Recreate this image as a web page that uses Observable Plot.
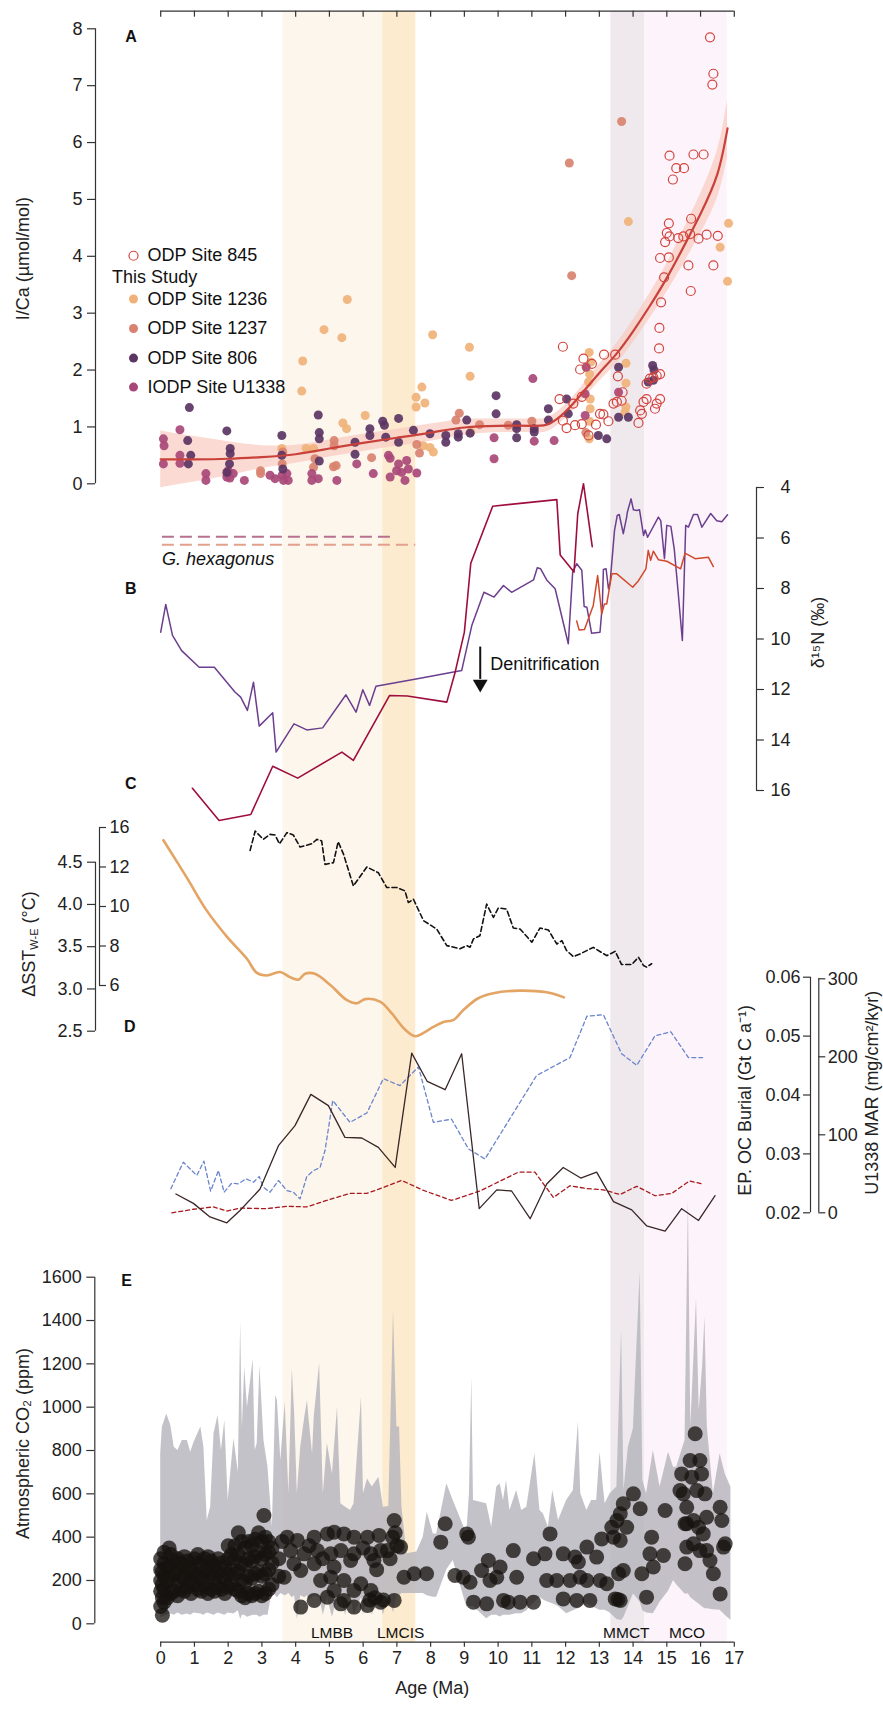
<!DOCTYPE html>
<html><head><meta charset="utf-8">
<script src="https://cdn.jsdelivr.net/npm/d3@7"></script>
<script src="https://cdn.jsdelivr.net/npm/@observablehq/plot@0.6"></script>
<style>
body{margin:0;background:#fff}
#chart{position:relative;width:883px;height:1711px;overflow:hidden}
</style>
</head><body><div id="chart"></div>
<script>
// ---------------- DATA ----------------
const ageTicks = d3.range(0, 18);
const bands = [
  {name: "LMBB", x1: 3.62, x2: 6.58, fill: "#fcf6ed", labelX: 5.08},
  {name: "LMCIS", x1: 6.58, x2: 7.56, fill: "#fdebd0", labelX: 7.11},
  {name: "MMCT", x1: 13.34, x2: 14.35, fill: "#efe9ee", labelX: 13.8},
  {name: "MCO", x1: 14.35, x2: 16.79, fill: "#fdf4fb", labelX: 15.6}
];

// Panel A : I/Ca
const site845 = [[16.28,7.85],[16.38,7.21],[16.35,7.02],[15.08,5.77],[15.79,5.79],[16.09,5.79],[15.28,5.55],[15.51,5.55],[15.18,5.35],[15.06,4.58],[15.72,4.66],[15.0,4.41],[15.08,4.35],[15.34,4.32],[15.49,4.35],[15.69,4.39],[15.94,4.31],[16.18,4.38],[16.51,4.36],[14.95,4.25],[14.8,3.97],[15.06,3.98],[15.64,3.84],[16.38,3.84],[15.71,3.39],[14.92,3.63],[14.83,3.19],[14.78,2.74],[14.77,2.38],[14.8,1.93],[14.7,1.9],[14.6,1.87],[14.5,1.85],[14.4,1.76],[14.8,1.49],[14.7,1.41],[14.65,1.32],[14.4,1.49],[14.31,1.44],[14.21,1.29],[14.26,1.23],[14.16,1.07],[13.55,1.89],[13.47,2.27],[13.14,2.27],[12.53,2.2],[12.43,2.01],[12.78,2.11],[11.92,2.41],[11.82,1.49],[12.23,1.41],[12.48,1.53],[11.92,1.11],[12.03,0.98],[12.28,1.03],[12.48,1.05],[12.68,0.85],[12.9,1.04],[13.02,1.23],[13.12,1.22],[13.27,1.1],[13.42,1.41],[13.52,1.44],[13.66,1.46],[13.69,1.61]];
const site1236 = [[4.21,2.16],[4.18,1.63],[4.84,2.71],[5.37,2.57],[5.53,3.24],[6.06,1.2],[5.4,1.07],[5.51,0.97],[4.31,0.62],[4.53,0.62],[3.59,0.62],[8.06,2.62],[9.15,2.4],[9.17,1.89],[7.74,1.7],[7.57,1.52],[7.57,1.35],[7.83,1.42],[12.7,2.31],[12.75,2.14],[12.71,1.93],[12.68,1.79],[12.73,1.49],[12.73,1.32],[12.71,1.1],[12.7,0.79],[13.79,2.12],[13.79,1.77],[13.79,1.35],[13.76,1.26],[9.19,0.91],[7.78,0.67],[8.08,0.56],[7.98,0.64],[13.86,4.61],[16.83,4.58],[16.58,4.16],[16.8,3.56]];
const site1237 = [[2.96,0.23],[2.96,0.18],[3.6,0.35],[5.14,0.76],[5.14,0.67],[5.12,0.3],[5.2,0.32],[4.57,0.44],[4.53,0.29],[6.25,0.46],[3.62,0.56],[13.66,6.37],[12.11,5.64],[12.18,3.66],[8.85,1.24],[8.75,1.12],[9.45,1.04],[11.0,1.1],[10.3,1.03],[7.59,0.69],[7.67,0.54],[12.6,0.9]];
const site806 = [[0.85,1.34],[0.8,0.76],[0.89,0.5],[0.82,0.35],[1.96,0.93],[2.06,0.62],[2.06,0.53],[2.04,0.35],[1.96,0.2],[3.59,0.85],[3.59,0.5],[3.62,0.26],[4.67,1.21],[4.7,0.9],[4.7,0.79],[4.7,0.4],[5.76,0.73],[5.76,0.52],[6.2,0.97],[6.2,0.85],[6.58,1.1],[6.63,1.03],[6.67,0.82],[7.05,1.15],[7.05,0.73],[7.49,0.94],[7.98,0.88],[8.45,0.85],[8.45,0.73],[8.82,0.88],[8.82,0.82],[9.07,1.12],[9.17,0.89],[9.94,1.55],[9.94,1.23],[10.55,1.04],[10.55,0.97],[10.55,0.81],[11.07,0.97],[11.07,0.91],[11.49,1.32],[11.49,1.12],[12.03,1.49],[12.08,1.23],[12.97,0.85],[13.22,0.79],[13.57,1.17],[13.86,1.17],[13.57,2.05],[14.58,2.08],[14.62,2.0],[14.6,1.82],[14.45,1.79]];
const siteU1338 = [[0.08,0.79],[0.1,0.67],[0.08,0.35],[0.57,0.95],[0.57,0.5],[0.57,0.36],[1.34,0.18],[1.34,0.06],[2.0,0.23],[1.96,0.12],[2.15,0.18],[2.48,0.06],[3.24,0.15],[3.39,0.09],[3.64,0.06],[3.74,0.18],[3.78,0.06],[4.48,0.18],[4.48,0.06],[4.67,0.09],[5.22,0.06],[5.81,0.35],[6.3,0.18],[6.75,0.5],[6.8,0.12],[7.05,0.35],[7.14,0.2],[7.24,0.06],[7.29,0.41],[7.59,0.19],[6.99,0.23],[7.34,0.26],[6.8,0.45],[11.03,1.85],[9.88,0.81],[9.88,0.44],[11.07,0.75],[11.66,0.76],[12.61,2.05],[12.58,1.58],[12.58,1.2],[13.57,1.61],[3.6,0.15],[2.05,0.1]];
const fitAge = [0,1,2,3,4,5,6,7,8,9,10,11,11.5,12,12.5,13,13.5,14,14.5,15,15.5,16,16.5,16.8];
const fitICa = [0.43,0.43,0.44,0.47,0.52,0.62,0.72,0.81,0.9,0.99,1.02,1.02,1.05,1.27,1.6,1.95,2.28,2.68,3.13,3.62,4.17,4.75,5.45,6.25];
const fitErr = [0.5,0.4,0.3,0.2,0.16,0.15,0.15,0.15,0.15,0.14,0.12,0.12,0.12,0.12,0.13,0.15,0.18,0.2,0.22,0.25,0.3,0.35,0.42,0.5];
const hexLines = [{x1: 0.05, x2: 6.94, y: -0.93, color: "#b8708e"}, {x1: 0.05, x2: 7.56, y: -1.07, color: "#e3a08c"}];
const iCaTicks = d3.range(0, 9);

// Panel B : d15N
const d15Npurple = [[0,9.73],[0.15,8.63],[0.35,9.86],[0.62,10.46],[1.14,11.12],[1.59,11.12],[2.2,12.1],[2.37,12.3],[2.57,12.83],[2.75,11.71],[2.92,13.45],[3.32,12.92],[3.42,14.48],[3.95,13.36],[4.33,13.6],[4.8,13.52],[5.49,12.21],[5.79,12.9],[5.99,12.01],[6.19,12.63],[6.38,11.87],[7.69,11.55],[8.92,11.25],[9.22,9.47],[9.58,8.15],[9.88,8.34],[10.16,7.88],[10.4,8.15],[11.05,7.66],[11.16,7.18],[11.26,7.22],[11.44,7.66],[11.69,8.01],[12.08,10.19],[12.21,7.35],[12.33,7.02],[12.48,7.28],[12.55,8.71],[12.63,8.74],[12.77,9.77],[13.02,9.73],[13.09,8.61],[13.12,7.25],[13.2,7.22],[13.27,8.01],[13.32,7.75],[13.45,5.7],[13.53,5.11],[13.59,5.07],[13.71,5.83],[13.81,5.17],[13.83,4.98],[13.94,4.45],[14.01,4.88],[14.11,4.91],[14.19,4.88],[14.31,5.9],[14.36,5.68],[14.43,5.97],[14.75,5.17],[14.82,5.31],[14.93,6.82],[15.0,5.5],[15.12,5.54],[15.22,6.43],[15.34,8.21],[15.46,10.06],[15.56,5.5],[15.64,5.57],[15.79,5.07],[15.91,5.07],[16.04,5.57],[16.3,5.03],[16.48,5.32],[16.63,5.36],[16.8,5.08]];
const d15Ncrimson = [[0.94,15.91],[1.73,17.19],[2.67,16.95],[3.32,15.04],[4.06,15.51],[5.37,14.48],[5.71,14.81],[6.78,12.24],[7.31,12.26],[8.48,12.5],[8.72,11.35],[9.0,9.73],[9.19,7.0],[9.84,4.74],[11.74,4.48],[11.84,6.67],[12.25,7.35],[12.36,5.04],[12.53,3.85],[12.79,6.34]];
const d15Norange = [[12.33,9.29],[12.4,9.64],[12.56,9.62],[12.82,8.67],[12.95,7.49],[13.07,9.0],[13.15,8.61],[13.22,8.61],[13.37,7.42],[13.52,7.42],[13.99,7.95],[14.16,7.69],[14.38,7.22],[14.45,6.49],[14.52,6.88],[14.6,6.52],[14.75,6.86],[15.0,6.92],[15.41,7.22],[15.54,6.6],[15.84,6.82],[16.23,6.76],[16.38,7.13]];
const d15NTicks = [4,6,8,10,12,14,16];

// Panel C : SST
const dSST = [[0.08,4.76],[0.77,4.32],[1.36,3.93],[1.96,3.62],[2.55,3.36],[2.85,3.19],[3.14,3.16],[3.54,3.2],[3.83,3.14],[4.08,3.11],[4.28,3.18],[4.57,3.18],[5.02,3.05],[5.51,2.87],[5.81,2.83],[6.06,2.88],[6.5,2.85],[6.85,2.71],[7.24,2.52],[7.54,2.44],[7.79,2.48],[8.08,2.55],[8.38,2.61],[8.67,2.63],[8.97,2.75],[9.41,2.89],[9.86,2.95],[10.65,2.98],[11.44,2.96],[11.95,2.9]];
// dashed record, in units of the inner axis as drawn (ticks 6..12 evenly spaced, top tick labelled 16)
const sstDashed = [[2.65,12.84],[2.8,13.82],[3.04,13.4],[3.24,13.65],[3.39,13.62],[3.52,13.17],[3.74,13.74],[3.93,13.62],[4.13,13.01],[4.48,13.18],[4.63,13.4],[4.77,13.32],[4.87,12.13],[5.12,12.22],[5.26,13.28],[5.42,12.64],[5.71,11.04],[6.11,12.0],[6.45,11.71],[6.7,10.96],[7.0,10.96],[7.24,10.79],[7.34,10.2],[7.49,10.37],[7.79,9.28],[8.18,8.86],[8.48,8.02],[8.87,7.86],[9.07,8.02],[9.17,7.94],[9.27,8.36],[9.46,8.52],[9.66,10.12],[9.86,9.45],[10.01,9.93],[10.25,9.87],[10.45,8.91],[10.65,8.86],[11.0,8.19],[11.24,8.91],[11.49,8.81],[11.74,8.1],[11.89,8.27],[12.03,7.77],[12.23,7.46],[12.43,7.6],[12.82,7.93],[13.22,7.51],[13.47,7.73],[13.66,7.06],[13.96,7.06],[14.16,7.43],[14.31,7.01],[14.4,6.93],[14.55,7.1]];
const sstTicks = [2.5,3.0,3.5,4.0,4.5];
const sst2Ticks = [6,8,10,12,14];
const sst2Labels = ["6","8","10","12","16"];

// Panel D : burial / MAR
const ocBurial = [[0.45,0.0232],[0.97,0.0216],[1.46,0.0193],[1.96,0.0183],[2.35,0.0204],[2.94,0.024],[3.49,0.0314],[3.98,0.0348],[4.45,0.0401],[4.97,0.0382],[5.46,0.0328],[5.96,0.0327],[6.45,0.0311],[6.95,0.0277],[7.44,0.0471],[7.9,0.0423],[8.43,0.0409],[8.92,0.047],[9.44,0.0207],[9.96,0.0239],[10.4,0.0237],[10.95,0.019],[11.44,0.0249],[11.93,0.0277],[12.45,0.0259],[12.92,0.0269],[13.42,0.0219],[13.96,0.0205],[14.4,0.0178],[14.95,0.0169],[15.44,0.0207],[15.94,0.0187],[16.43,0.0229]];
const ocBurial2 = [[0.33,0.02],[0.97,0.0206],[1.56,0.021],[1.96,0.0203],[2.35,0.0208],[3.14,0.0207],[3.74,0.0211],[4.33,0.021],[4.92,0.0221],[5.61,0.0233],[6.11,0.0233],[6.6,0.0243],[7.14,0.0255],[7.79,0.0238],[8.62,0.0221],[9.46,0.0237],[10.6,0.0269],[11.09,0.0269],[11.64,0.0226],[12.13,0.0246],[12.63,0.0241],[13.12,0.0239],[13.61,0.0231],[14.11,0.0245],[14.65,0.0229],[15.15,0.0233],[15.67,0.0254],[16.06,0.0249]];
const marU1338 = [[0.3,30.8],[0.67,64.9],[1.07,47.8],[1.28,66.2],[1.48,27.7],[1.71,54.2],[1.88,26.4],[2.1,37.9],[2.3,37.2],[2.53,43.6],[2.75,39.2],[2.92,46.5],[3.04,32.8],[3.24,26.4],[3.49,41.4],[3.74,28.6],[3.93,26.4],[4.13,17.9],[4.33,46.5],[4.53,54.2],[4.72,57.7],[4.87,79.9],[5.1,144],[5.61,116],[6.11,128],[6.6,172],[7.09,163],[7.64,187],[8.08,116],[8.62,120],[9.12,82],[9.61,69],[11.14,176],[12.13,199],[12.63,252],[13.12,254],[13.66,204],[14.11,189],[14.65,227],[15.12,232],[15.64,199],[16.06,199]];
const ocTicks = [0.02,0.03,0.04,0.05,0.06];
const marTicks = [0,100,200,300];

// Panel E : CO2
const co2Env = [[0.0,30,785],[0.05,30,908],[0.18,40,969],[0.3,45,915],[0.4,40,815],[0.51,50,800],[0.64,40,846],[0.79,45,846],[0.89,40,792],[0.99,50,838],[1.19,45,908],[1.28,40,815],[1.38,50,477],[1.48,45,538],[1.58,40,877],[1.7,50,962],[1.8,45,800],[1.9,40,938],[2.0,50,569],[2.17,45,854],[2.3,60,700],[2.37,20,1392],[2.42,40,900],[2.49,40,1185],[2.57,30,1000],[2.74,40,1220],[2.8,40,800],[2.86,40,831],[2.94,30,1192],[3.06,40,846],[3.18,40,723],[3.31,150,446],[3.41,130,1054],[3.46,120,1031],[3.56,140,754],[3.69,130,1023],[3.8,140,600],[3.9,120,1177],[3.97,130,969],[4.05,20,600],[4.15,130,815],[4.27,120,954],[4.35,130,1031],[4.4,110,938],[4.5,120,785],[4.55,130,954],[4.71,120,1203],[4.82,40,600],[4.94,120,834],[5.09,30,692],[5.24,120,1000],[5.34,130,554],[5.48,40,538],[5.63,130,523],[5.73,40,554],[5.95,120,1046],[6.01,40,600],[6.13,130,669],[6.27,40,631],[6.47,130,677],[6.6,40,538],[6.76,130,542],[6.9,50,1446],[7.0,130,908],[7.08,130,908],[7.15,140,538],[7.3,140,323],[7.59,140,331],[7.78,140,400],[7.9,130,515],[8.08,123,415],[8.18,123,415],[8.48,250,646],[8.67,292,569],[9.07,77,415],[9.15,80,600],[9.22,80,1138],[9.27,80,569],[9.66,23,554],[9.81,40,446],[9.96,40,631],[10.06,31,646],[10.16,40,569],[10.25,40,662],[10.35,40,523],[10.55,46,615],[10.7,46,523],[10.85,60,538],[11.09,100,785],[11.24,123,523],[11.34,110,508],[11.49,100,446],[11.62,92,615],[11.79,80,477],[12.03,46,569],[12.23,60,615],[12.38,70,931],[12.45,80,600],[12.63,92,523],[12.77,80,569],[12.92,70,569],[13.02,62,792],[13.17,62,554],[13.32,50,600],[13.52,20,631],[13.66,15,1354],[13.73,30,615],[13.86,80,815],[14.01,138,900],[14.06,130,1092],[14.21,100,1623],[14.29,60,662],[14.4,50,600],[14.6,46,800],[14.8,100,631],[15.05,150,792],[15.2,200,723],[15.29,180,723],[15.54,138,846],[15.64,138,1960],[15.71,120,908],[15.88,100,1500],[15.96,90,985],[16.06,77,1185],[16.13,70,1415],[16.2,70,908],[16.38,65,600],[16.58,62,785],[16.73,40,692],[16.9,15,631]];
const co2Pts = [[0.0,80],[0.0,150],[0.0,200],[0.0,250],[0.0,300],[0.05,40],[0.05,120],[0.05,180],[0.05,240],[0.1,100],[0.1,160],[0.1,220],[0.1,280],[0.1,330],[0.2,120],[0.2,200],[0.2,260],[0.25,350],[0.3,140],[0.3,210],[0.3,270],[0.3,320],[0.4,150],[0.4,230],[0.4,290],[0.5,130],[0.5,190],[0.5,250],[0.5,300],[0.6,160],[0.6,220],[0.6,280],[0.7,150],[0.7,210],[0.7,270],[0.7,310],[0.8,170],[0.8,240],[0.8,290],[0.9,140],[0.9,200],[0.9,260],[1.0,180],[1.0,230],[1.0,300],[1.1,160],[1.1,220],[1.1,280],[1.1,320],[1.2,150],[1.2,210],[1.2,270],[1.3,170],[1.3,240],[1.3,300],[1.4,140],[1.4,200],[1.4,260],[1.4,310],[1.5,160],[1.5,230],[1.5,290],[1.6,150],[1.6,210],[1.6,270],[1.7,170],[1.7,240],[1.7,300],[1.8,160],[1.8,220],[1.8,280],[1.9,140],[1.9,200],[1.9,260],[2.0,170],[2.0,230],[2.0,300],[2.0,360],[2.1,180],[2.1,250],[2.1,320],[2.2,160],[2.2,230],[2.2,300],[2.2,360],[2.3,150],[2.3,240],[2.3,320],[2.3,420],[2.4,130],[2.4,200],[2.4,280],[2.4,380],[2.5,120],[2.5,190],[2.5,270],[2.5,350],[2.6,140],[2.6,220],[2.6,300],[2.6,380],[2.7,130],[2.7,210],[2.7,290],[2.7,360],[2.8,140],[2.8,230],[2.8,310],[2.8,390],[2.9,150],[2.9,240],[2.9,330],[2.9,420],[3.0,130],[3.0,220],[3.0,300],[3.0,380],[3.06,500],[3.1,140],[3.1,230],[3.1,320],[3.1,400],[3.2,160],[3.2,250],[3.2,330],[3.2,380],[3.3,180],[3.3,280],[3.3,350],
[3.75,400],[4.05,385],[4.55,400],[4.94,415],[5.14,423],[5.43,415],[5.73,400],[6.13,400],[6.47,408],[6.92,477],[6.87,400],[7.11,354],[3.85,338],[4.25,323],[4.64,338],[5.04,323],[5.34,338],[5.73,323],[6.23,323],[6.52,338],[3.95,277],[4.55,277],[5.14,262],[5.63,292],[6.32,292],[6.72,338],[3.66,215],[4.15,246],[4.74,200],[5.04,215],[5.43,200],[5.93,185],[6.23,154],[5.73,154],[5.14,154],[4.94,123],[5.43,108],[4.55,108],[4.15,77],[5.73,77],[6.13,85],[6.52,100],[6.92,108],[5.34,92],[7.21,215],[7.51,231],[3.5,300],[3.5,220],[3.6,380],[4.4,360],[4.8,300],[6.0,350],[6.4,250],[6.8,300],[7.0,360],[6.95,420],[6.2,110],[6.6,110],[6.35,120],
[7.88,231],[8.43,462],[8.3,377],[8.72,223],[9.07,415],[9.12,400],[8.97,215],[9.17,192],[9.27,100],[9.51,246],[9.71,292],[9.76,200],[9.66,92],[9.96,215],[10.06,262],[10.16,108],[10.3,100],[10.45,338],[10.55,215],[10.65,100],[11.05,100],[11.05,300],[11.39,323],[11.54,415],[11.44,200],[11.74,200],[11.93,323],[11.93,115],[12.13,200],[12.28,308],[12.38,285],[12.43,215],[12.33,108],[12.63,354],[12.63,200],[12.72,108],[12.92,308],[13.02,200],[13.07,392],[13.22,185],[13.37,446],[13.52,477],[13.62,508],[13.71,554],[14.01,600],[13.81,446],[13.62,385],[13.42,400],[13.57,231],[13.47,115],[13.62,108],[13.55,112],[13.71,246],[14.21,531],[14.26,231],[14.4,123],[14.55,400],[14.5,323],[14.6,262],[14.9,315],[14.95,523],[15.44,692],[15.49,600],[15.54,277],[15.59,354],[15.59,462],[15.69,754],[15.74,677],[15.84,877],[15.89,615],[15.98,754],[16.03,692],[16.13,600],[15.94,446],[16.08,415],[15.98,338],[16.18,338],[16.28,292],[15.79,477],[15.79,369],[16.18,492],[16.38,231],[16.58,538],[16.63,477],[16.68,354],[16.73,369],[16.58,138],[15.54,462],[15.39,615],[15.59,538]];
const co2Ticks = [0,200,400,600,800,1000,1200,1400,1600];

// ---------------- HELPERS ----------------
const W = 883, H = 1711, XL = 160.2, XR = 733.8;
const FONT = "'Liberation Sans', Arial, Helvetica, sans-serif";
const AX = "#333";
const root = document.getElementById("chart");
const pts = a => a.map(([age, v]) => ({age, v}));

function layer(o) {
  const svg = Plot.plot({
    width: W, height: H,
    marginTop: o.top, marginBottom: H - o.bottom,
    marginLeft: o.left ?? XL, marginRight: W - (o.right ?? XR),
    x: Object.assign({domain: [0, 17], axis: null}, o.x || {}),
    y: Object.assign({axis: null}, o.y || {}),
    style: {background: "transparent", fontFamily: FONT, fontSize: "18px", color: "#222", overflow: "visible"},
    marks: o.marks
  });
  Object.assign(svg.style, {position: "absolute", left: "0px", top: "0px", maxWidth: "none"});
  root.appendChild(svg);
  return svg;
}
function vAxis({pos, dir, len = 8, top, bottom, y, ticks, fmt = d => String(d), labelAt, anchor, pad}) {
  const left = dir < 0 ? pos - len : pos, right = dir < 0 ? pos : pos + len;
  return layer({top, bottom, left, right, x: {domain: [0, 1]}, y, marks: [
    Plot.ruleX([dir < 0 ? 1 : 0], {stroke: AX, strokeWidth: 1.2}),
    Plot.ruleY(ticks, {y: d => d, stroke: AX, strokeWidth: 1.2}),
    Plot.text(ticks, {x: labelAt, y: d => d, text: fmt, textAnchor: anchor, dx: pad, fill: "#222"})
  ]});
}
const letter = (t, x, y) => Plot.text([t], {x, y, fontWeight: "bold", fontSize: 16, fill: "#111"});

// ---------------- LAYERS ----------------
layer({top: 11, bottom: 1641.7, marks: [
  Plot.rect(bands, {x1: "x1", x2: "x2", fill: "fill"})
]});

layer({top: 10.7, bottom: 16.7, y: {domain: [0, 1]}, marks: [
  Plot.ruleY([1], {stroke: AX, strokeWidth: 1.2}),
  Plot.ruleX(ageTicks, {x: d => d, stroke: AX, strokeWidth: 1.2})
]});

// Panel E
layer({top: 1276.7, bottom: 1623.3, y: {domain: [0, 1600]}, marks: [
  Plot.areaY(co2Env, {x: d => d[0], y1: d => d[1], y2: d => d[2], fill: "#b4b3ba", fillOpacity: 0.8}),
  Plot.dot(pts(co2Pts), {x: "age", y: "v", r: 7.5, fill: "#17130f", fillOpacity: 0.76}),
  Plot.text(bands, {x: "labelX", y: -43, text: "name", fontSize: 15.5, fill: "#111"}),
  letter("E", -1.01, 1584),
  Plot.text(["Atmospheric CO₂ (ppm)"], {x: -4.07, y: 832, rotate: -90, fill: "#222"})
]});
vAxis({pos: 94.3, dir: -1, top: 1276.7, bottom: 1623.3, y: {domain: [0, 1600]}, ticks: co2Ticks, labelAt: 0, anchor: "end", pad: -5});

// Panel A
const fit = fitAge.map((a, i) => ({age: a, v: fitICa[i], e: fitErr[i]}));
const legendRows = [
  {label: "ODP Site 845", color: "#d2453d", open: true, y: 4.01},
  {label: "ODP Site 1236", color: "#f0b27a", y: 3.25},
  {label: "ODP Site 1237", color: "#d9826f", y: 2.73},
  {label: "ODP Site 806", color: "#5b3563", y: 2.21},
  {label: "IODP Site U1338", color: "#a84878", y: 1.70}
];
layer({top: 28.3, bottom: 483.3, y: {domain: [0, 8]}, marks: [
  Plot.areaY(fit, {x: "age", y1: d => d.v - d.e, y2: d => d.v + d.e, fill: "#f8cbbf", fillOpacity: 0.7, curve: "natural"}),
  Plot.ruleY(hexLines, {x1: "x1", x2: "x2", y: "y", stroke: "color", strokeWidth: 2, strokeDasharray: "12,6"}),
  Plot.text(["G. hexagonus"], {x: 0.04, y: -1.33, textAnchor: "start", fontStyle: "italic", fill: "#111"}),
  Plot.dot(pts(site1236), {x: "age", y: "v", r: 4.5, fill: "#f0b27a", fillOpacity: 0.92}),
  Plot.dot(pts(site1237), {x: "age", y: "v", r: 4.5, fill: "#d9826f", fillOpacity: 0.92}),
  Plot.dot(pts(siteU1338), {x: "age", y: "v", r: 4.5, fill: "#a84878", fillOpacity: 0.92}),
  Plot.dot(pts(site806), {x: "age", y: "v", r: 4.5, fill: "#5b3563", fillOpacity: 0.92}),
  Plot.dot(pts(site845), {x: "age", y: "v", r: 4.5, stroke: "#d2453d", strokeWidth: 1.2, fill: "none"}),
  Plot.line(fit, {x: "age", y: "v", stroke: "#c8413a", strokeWidth: 2.2, curve: "natural"}),
  Plot.dot(legendRows, {x: -0.806, y: "y", r: 4.5, fill: d => d.open ? "none" : d.color, stroke: d => d.open ? d.color : "none", strokeWidth: 1.2}),
  Plot.text(legendRows, {x: -0.39, y: "y", text: "label", textAnchor: "start", fill: "#111"}),
  Plot.text(["This Study"], {x: -1.44, y: 3.63, textAnchor: "start", fill: "#111"}),
  letter("A", -0.88, 7.85),
  Plot.text(["I/Ca (µmol/mol)"], {x: -4.07, y: 3.96, rotate: -90, fill: "#222"})
]});
vAxis({pos: 95, dir: -1, top: 28.3, bottom: 483.3, y: {domain: [0, 8]}, ticks: iCaTicks, labelAt: 0, anchor: "end", pad: -5});

// Panel B
layer({top: 487, bottom: 790, y: {domain: [4, 16], reverse: true}, marks: [
  Plot.line(pts(d15Npurple), {x: "age", y: "v", stroke: "#6c3f8e", strokeWidth: 1.5}),
  Plot.line(pts(d15Ncrimson), {x: "age", y: "v", stroke: "#9e0e3c", strokeWidth: 1.6}),
  Plot.line(pts(d15Norange), {x: "age", y: "v", stroke: "#d1492a", strokeWidth: 1.5}),
  Plot.ruleX([9.47], {y1: 10.32, y2: 11.6, stroke: "#111", strokeWidth: 2}),
  Plot.dot([9.47], {x: d => d, y: 11.78, symbol: "triangle", rotate: 180, r: 5.5, fill: "#111"}),
  Plot.text(["Denitrification"], {x: 9.77, y: 11.01, textAnchor: "start", fill: "#111"}),
  letter("B", -0.89, 8.0),
  letter("C", -0.89, 15.72),
  Plot.text(["δ¹⁵N (‰)"], {x: 19.5, y: 9.74, rotate: -90, fill: "#222"})
]});
vAxis({pos: 756, dir: 1, top: 487, bottom: 790, y: {domain: [4, 16], reverse: true}, ticks: d15NTicks, labelAt: 1, anchor: "end", pad: 26});

// Panel C
const cSvg = layer({top: 861.7, bottom: 1030.7, y: {domain: [2.5, 4.5]}, marks: [
  Plot.line(pts(dSST), {x: "age", y: "v", stroke: "#e3a464", strokeWidth: 2.6, curve: "catmull-rom"})
]});
layer({top: 827, bottom: 985, y: {domain: [6, 14]}, marks: [
  Plot.line(pts(sstDashed), {x: "age", y: "v", stroke: "#111", strokeWidth: 1.6, strokeDasharray: "5,3"})
]});
vAxis({pos: 95, dir: -1, top: 861.7, bottom: 1030.7, y: {domain: [2.5, 4.5]}, ticks: sstTicks, fmt: d3.format(".1f"), labelAt: 0, anchor: "end", pad: -5});
vAxis({pos: 99, dir: 1, len: 7, top: 827, bottom: 985, y: {domain: [6, 14]}, ticks: sst2Ticks, fmt: (d, i) => sst2Labels[i], labelAt: 1, anchor: "start", pad: 3});
{
  const t = d3.select(cSvg).append("text")
    .attr("transform", "translate(30,944) rotate(-90)")
    .attr("text-anchor", "middle").attr("dominant-baseline", "middle")
    .attr("font-family", FONT).attr("font-size", 18).attr("fill", "#222");
  t.append("tspan").text("ΔSST");
  t.append("tspan").attr("font-size", 11).attr("dy", 5).text("W-E");
  t.append("tspan").attr("dy", -5).text(" (°C)");
}

// Panel D
layer({top: 978.3, bottom: 1212.3, y: {domain: [0, 300]}, marks: [
  Plot.line(pts(marU1338), {x: "age", y: "v", stroke: "#6b84cc", strokeWidth: 1.3, strokeDasharray: "4,3"})
]});
layer({top: 976.7, bottom: 1212.3, y: {domain: [0.02, 0.06]}, marks: [
  Plot.line(pts(ocBurial2), {x: "age", y: "v", stroke: "#a8181c", strokeWidth: 1.3, strokeDasharray: "4,3"}),
  Plot.line(pts(ocBurial), {x: "age", y: "v", stroke: "#3a2626", strokeWidth: 1.3}),
  letter("D", -0.92, 0.0515),
  Plot.text(["EP. OC Burial (Gt C a⁻¹)"], {x: 17.33, y: 0.0391, rotate: -90, fill: "#222"}),
  Plot.text(["U1338 MAR (mg/cm²/kyr)"], {x: 21.09, y: 0.0404, rotate: -90, fill: "#222"})
]});
vAxis({pos: 810, dir: -1, len: 7, top: 976.7, bottom: 1212.3, y: {domain: [0.02, 0.06]}, ticks: ocTicks, fmt: d3.format(".2f"), labelAt: 0, anchor: "end", pad: -3});
vAxis({pos: 818.3, dir: 1, len: 7, top: 978.3, bottom: 1212.3, y: {domain: [0, 300]}, ticks: marTicks, labelAt: 1, anchor: "start", pad: 2});

// bottom axis
layer({top: 1641.7, bottom: 1646.7, y: {domain: [0, 1]}, marks: [
  Plot.ruleY([1], {stroke: AX, strokeWidth: 1.2}),
  Plot.ruleX(ageTicks, {x: d => d, stroke: AX, strokeWidth: 1.2}),
  Plot.text(ageTicks, {x: d => d, y: 0, lineAnchor: "top", dy: 4, fill: "#222"}),
  Plot.text(["Age (Ma)"], {x: 8.05, y: 0, dy: 41, fill: "#222"})
]});
</script>
</body></html>
